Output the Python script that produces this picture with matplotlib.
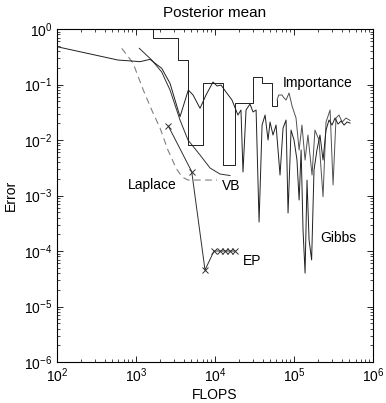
import numpy as np
import matplotlib
matplotlib.use("Agg")
import matplotlib.pyplot as plt

plt.rcParams['font.family'] = ['Liberation Sans', 'DejaVu Sans']

# Laplace (dashed)
laplace_flops = [659, 916, 1236, 1581, 2014, 2534, 3207, 3820, 4549, 10600]
laplace_err = [0.449, 0.244, 0.0796, 0.0347, 0.0164, 0.0066, 0.00313, 0.00216, 0.0019, 0.0019]

# VB
vb_flops = [1101, 1581, 2115, 2694, 3606, 4549, 6460, 8650, 11560, 15500]
vb_err = [0.449, 0.276, 0.168, 0.0796, 0.0229, 0.01, 0.00537, 0.00313, 0.00244, 0.00229]

# EP (with x markers)
ep_flops = [2564, 5070, 7470, 9710, 11570, 13390, 15490, 17920]
ep_err = [0.0179, 0.00269, 4.55e-5, 1.0e-4, 1.0e-4, 1.0e-4, 1.0e-4, 1.0e-4]

# Importance sampling: staircase part, then the noisy tail
imp_step_flops = [1000, 1641, 3430, 4487, 7110, 12800, 17900, 30600, 39400, 52100, 61000]
imp_step_err = [2.0, 0.697, 0.276, 0.0081, 0.105, 0.00355, 0.0464, 0.139, 0.105, 0.041, 0.0526]
imp_tail_flops = [61000, 64000, 70500, 74000, 79300, 86500, 94400, 106000, 116000,
                  126000, 138000, 150000, 169000, 184000, 207000, 233000, 254000,
                  286000, 312000, 340000, 371000, 406000, 455000, 512000]
imp_tail_err = [0.0526, 0.0647, 0.0647, 0.058, 0.0526, 0.0703, 0.041, 0.0249, 0.0066,
                0.0186, 0.00436, 0.0123, 0.00234, 0.0151, 0.01, 0.00095, 0.0211,
                0.0347, 0.00155, 0.0249, 0.0282, 0.0211, 0.0249, 0.0225]

# Gibbs sampling
gibbs_flops = [100, 592, 883, 1124, 1503, 2115, 2694, 3606, 4592, 5272, 6460,
               7690, 9440, 10600, 11900, 13800, 16400, 19500, 21300, 22600, 24700,
               27700, 30300, 33100, 36100, 39400, 43000, 46900, 49700, 54200,
               59200, 66500, 72600, 79300, 84000, 91700, 100000, 109000, 116000,
               123000, 130000, 138000, 146000, 155000, 167000, 179000, 195000,
               213000, 233000, 254000, 277000, 303000, 330000, 361000, 394000,
               430000, 469000, 512000]
gibbs_err = [0.48, 0.276, 0.265, 0.258, 0.284, 0.196, 0.105, 0.0263, 0.0796, 0.0647,
             0.0373, 0.0647, 0.111, 0.094, 0.098, 0.073, 0.0526, 0.0282, 0.0347,
             0.00265, 0.0347, 0.0445, 0.032, 0.0347, 3.33e-4, 0.0186, 0.0282, 0.01,
             0.0211, 0.0123, 0.0186, 0.00234, 0.0164, 0.0229, 4.84e-4, 0.0151, 0.01,
             0.00436, 8.3e-4, 0.0066, 2.39e-4, 4.0e-5, 0.0019, 1.58e-4, 6.9e-5,
             0.00288, 0.0066, 0.0123, 0.00436, 0.0151, 0.0229, 0.0186, 0.0249,
             0.0194, 0.022, 0.0186, 0.0211, 0.0202]

fig = plt.figure(figsize=(3.86, 4.03), dpi=100)
ax = fig.add_axes([0.1477, 0.1017, 0.8187, 0.8263])

ax.loglog(laplace_flops, laplace_err, '--', color='#808080', lw=0.8, dashes=(6, 4))
ax.loglog(vb_flops, vb_err, '-', color='#303030', lw=0.7)
ax.loglog(ep_flops, ep_err, '-', color='#303030', lw=0.7,
          marker='x', ms=4, mew=0.7)
ax.loglog(imp_step_flops, imp_step_err, '-', color='#202020', lw=0.7,
          drawstyle='steps-post')
ax.loglog(imp_tail_flops, imp_tail_err, '-', color='#505050', lw=0.7)
ax.loglog(gibbs_flops, gibbs_err, '-', color='#202020', lw=0.7)

ax.text(72600, 0.106, 'Importance', fontsize=10, ha='left', va='center')
ax.text(792, 0.00155, 'Laplace', fontsize=10, ha='left', va='center')
ax.text(12270, 0.00148, 'VB', fontsize=10, ha='left', va='center')
ax.text(213000, 1.71e-4, 'Gibbs', fontsize=10, ha='left', va='center')
ax.text(22600, 6.6e-5, 'EP', fontsize=10, ha='left', va='center')

ax.set_xlim(1e2, 1e6)
ax.set_ylim(1e-6, 1e0)
ax.set_title('Posterior mean', fontsize=11, pad=9)
ax.set_xlabel('FLOPS', fontsize=10, labelpad=2)
ax.set_ylabel('Error', fontsize=10, labelpad=4)

ax.tick_params(which='both', direction='in', top=True, right=True, labelsize=10)
ax.tick_params(which='major', length=4, width=0.6)
ax.tick_params(which='minor', length=2, width=0.5)
ax.yaxis.set_minor_locator(matplotlib.ticker.LogLocator(base=10, subs=np.arange(2, 10)))
ax.xaxis.set_minor_locator(matplotlib.ticker.LogLocator(base=10, subs=np.arange(2, 10)))
ax.yaxis.set_minor_formatter(matplotlib.ticker.NullFormatter())
ax.xaxis.set_minor_formatter(matplotlib.ticker.NullFormatter())
for s in ax.spines.values():
    s.set_linewidth(0.8)

fig.savefig('out.png', dpi=100)
